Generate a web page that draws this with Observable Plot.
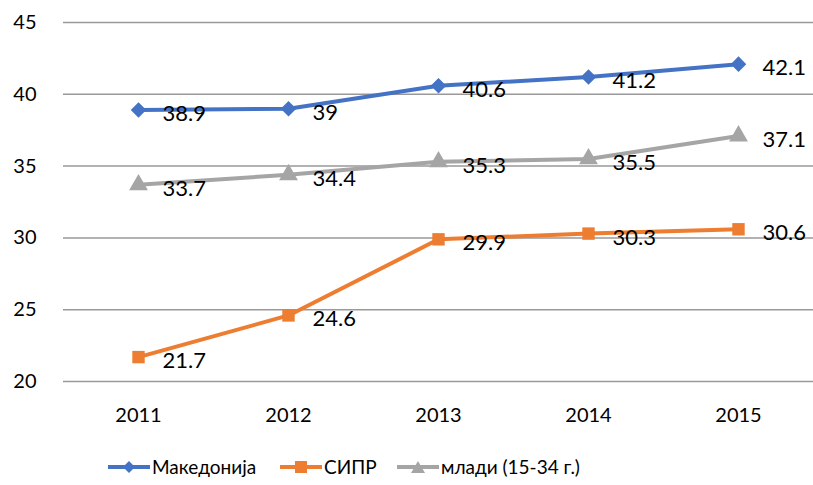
<!DOCTYPE html>
<html>
<head>
<meta charset="utf-8">
<script src="https://cdn.jsdelivr.net/npm/d3@7"></script>
<script src="https://cdn.jsdelivr.net/npm/@observablehq/plot@0.6"></script>
<style>
  body { margin: 0; background: #fff; font-family: Lato, "Open Sans", sans-serif; }
  #legend { position: relative; height: 45px; font-size: 19px; color: #000; }
  .item { position: absolute; top: 15px; display: flex; align-items: center; white-space: nowrap; }
  .item svg { margin-right: 2px; }
</style>
</head>
<body>
<div id="chart"></div>
<div id="legend"></div>
<script>
const years = ["2011", "2012", "2013", "2014", "2015"];
const seriesNames = ["Македонија", "СИПР", "млади (15-34 г.)"];
const makedonija = [38.9, 39, 40.6, 41.2, 42.1];
const sipr = [21.7, 24.6, 29.9, 30.3, 30.6];
const mladi = [33.7, 34.4, 35.3, 35.5, 37.1];
const yTicks = [20, 25, 30, 35, 40, 45];

const colors = ["#4472C4", "#ED7D31", "#A5A5A5"];
const symbols = ["diamond2", "square", "triangle"];
const allValues = [makedonija, sipr, mladi];
const legendLeft = [108, 280, 397];

const data = [];
seriesNames.forEach((s, i) => {
  years.forEach((y, j) => data.push({series: s, year: y, value: allValues[i][j]}));
});

const chart = Plot.plot({
  width: 813,
  height: 440,
  marginLeft: 63,
  marginRight: 0,
  marginTop: 22,
  marginBottom: 59,
  style: {fontFamily: "Lato, 'Open Sans', sans-serif", fontSize: "20px", color: "#000", background: "#fff"},
  x: {type: "point", domain: years, padding: 0.5, label: null, tickSize: 0, tickPadding: 26},
  y: {domain: [20, 45], ticks: yTicks, label: null, tickSize: 0, tickPadding: 27},
  color: {domain: seriesNames, range: colors},
  symbol: {domain: seriesNames, range: symbols},
  marks: [
    Plot.ruleY(yTicks, {stroke: "#999999", strokeWidth: 1.5}),
    Plot.axisY({ticks: yTicks, tickSize: 0, tickPadding: 27, fontSize: 20, label: null}),
    Plot.axisX({tickSize: 0, tickPadding: 26, fontSize: 20, label: null}),
    Plot.line(data, {x: "year", y: "value", z: "series", stroke: "series", strokeWidth: 4}),
    Plot.dot(data, {x: "year", y: "value", fill: "series", symbol: "series", r: 7, stroke: null}),
    Plot.text(data, {x: "year", y: "value", text: d => String(d.value), textAnchor: "start", dx: 24, dy: 4, fontSize: 22, fill: "#000"})
  ]
});
document.getElementById("chart").appendChild(chart);

// Legend
const legend = document.getElementById("legend");
seriesNames.forEach((s, i) => {
  const item = document.createElement("div");
  item.className = "item";
  item.style.left = legendLeft[i] + "px";
  let marker = "";
  if (symbols[i] === "diamond2") marker = `<path d="M21,2 L27,8 L21,14 L15,8 Z" fill="${colors[i]}"/>`;
  else if (symbols[i] === "square") marker = `<rect x="15" y="2" width="12" height="12" fill="${colors[i]}"/>`;
  else marker = `<path d="M21,2 L28,14 L14,14 Z" fill="${colors[i]}"/>`;
  item.innerHTML = `<svg width="42" height="16"><line x1="0" y1="8" x2="42" y2="8" stroke="${colors[i]}" stroke-width="4"/>${marker}</svg><span>${s}</span>`;
  legend.appendChild(item);
});
</script>
</body>
</html>
